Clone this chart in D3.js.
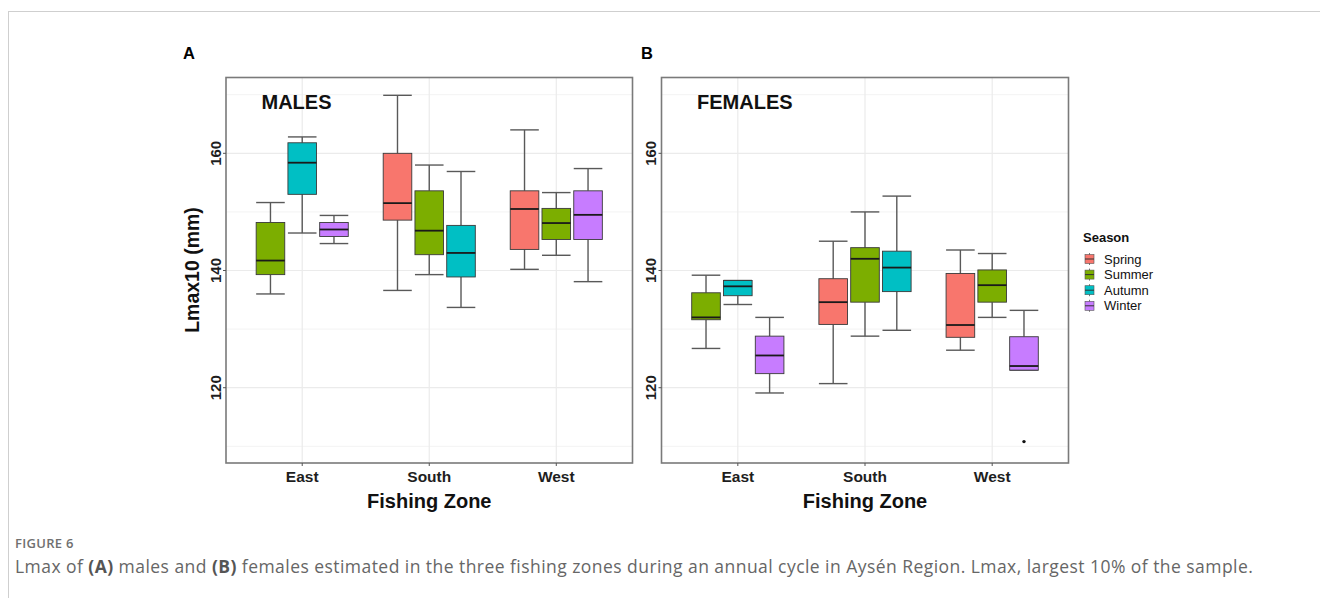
<!DOCTYPE html>
<html>
<head>
<meta charset="utf-8">
<script src="https://cdn.jsdelivr.net/npm/d3@7"></script>
<style>
  html, body { margin: 0; padding: 0; background: #fff; }
  svg { display: block; }
</style>
</head>
<body>
<svg id="chart" width="1320" height="598"></svg>
<script>
// ---------- DATA ----------
const zones = ["East", "South", "West"];
const seasons = ["Spring", "Summer", "Autumn", "Winter"];
const seasonColors = ["#F8766D", "#7CAE00", "#00BFC4", "#C77CFF"];
const yTicks = [120, 140, 160];
const yMinor = [110, 130, 150, 170];

// rows: [zone, season, lowerWhisker, q1, median, q3, upperWhisker]
const malesStats = [
  ["East",  "Summer", 136.0, 139.3, 141.7, 148.2, 151.6],
  ["East",  "Autumn", 146.4, 153.0, 158.4, 161.8, 162.8],
  ["East",  "Winter", 144.6, 145.8, 147.0, 148.2, 149.4],
  ["South", "Spring", 136.6, 148.6, 151.5, 160.0, 169.9],
  ["South", "Summer", 139.3, 142.7, 146.8, 153.6, 158.0],
  ["South", "Autumn", 133.7, 138.9, 143.0, 147.7, 156.9],
  ["West",  "Spring", 140.2, 143.6, 150.5, 153.6, 164.0],
  ["West",  "Summer", 142.6, 145.3, 148.1, 150.6, 153.3],
  ["West",  "Winter", 138.1, 145.3, 149.5, 153.6, 157.4]
];
const femalesStats = [
  ["East",  "Summer", 126.7, 131.6, 132.0, 136.2, 139.2],
  ["East",  "Autumn", 134.2, 135.7, 137.3, 138.3, 138.3],
  ["East",  "Winter", 119.1, 122.4, 125.5, 128.8, 132.0],
  ["South", "Spring", 120.7, 130.8, 134.6, 138.6, 145.0],
  ["South", "Summer", 128.8, 134.6, 142.0, 143.9, 150.0],
  ["South", "Autumn", 129.8, 136.4, 140.5, 143.3, 152.7],
  ["West",  "Spring", 126.4, 128.6, 130.7, 139.5, 143.5],
  ["West",  "Summer", 132.0, 134.6, 137.5, 140.1, 142.9],
  ["West",  "Winter", 123.0, 123.0, 123.7, 128.7, 133.2]
];
// outliers: [zone, season, value]
const femalesOutliers = [["West", "Winter", 110.8]];
const malesOutliers = [];

// ---------- LAYOUT ----------
const svg = d3.select("#chart");
const FONT = "'Liberation Sans', Arial, Helvetica, sans-serif";
const yDomain = [107.15, 172.94];
const panelTop = 77.5, panelBottom = 463;

const color = d3.scaleOrdinal().domain(seasons).range(seasonColors);

// outer frame
svg.append("line").attr("x1", 8).attr("x2", 1320).attr("y1", 11.5).attr("y2", 11.5)
  .attr("stroke", "#cfcfcf").attr("stroke-width", 1);
svg.append("line").attr("x1", 8.5).attr("x2", 8.5).attr("y1", 11).attr("y2", 598)
  .attr("stroke", "#cfcfcf").attr("stroke-width", 1);

function drawPanel(opts) {
  const { left, right, stats, outliers, letter, title, yTitle } = opts;
  const g = svg.append("g");
  const x = d3.scaleLinear().domain([0.4, 3.6]).range([left, right]);
  const y = d3.scaleLinear().domain(yDomain).range([panelBottom, panelTop]);

  // grid
  g.selectAll(".minor").data(yMinor).join("line")
    .attr("x1", left).attr("x2", right)
    .attr("y1", d => y(d)).attr("y2", d => y(d))
    .attr("stroke", "#f3f3f3").attr("stroke-width", 1);
  g.selectAll(".major").data(yTicks).join("line")
    .attr("x1", left).attr("x2", right)
    .attr("y1", d => y(d)).attr("y2", d => y(d))
    .attr("stroke", "#ebebeb").attr("stroke-width", 1.2);
  g.selectAll(".vgrid").data(zones).join("line")
    .attr("x1", (d, i) => x(i + 1)).attr("x2", (d, i) => x(i + 1))
    .attr("y1", panelTop).attr("y2", panelBottom)
    .attr("stroke", "#ebebeb").attr("stroke-width", 1.2);

  // boxes
  const dodge = 0.75;
  stats.forEach(row => {
    const [zone, season, lo, q1, med, q3, hi] = row;
    const inZone = stats.filter(r => r[0] === zone).map(r => r[1]);
    const n = inZone.length;
    const k = inZone.indexOf(season);
    const zi = zones.indexOf(zone) + 1;
    const slot = dodge / n;
    const cx = zi - dodge / 2 + slot * (k + 0.5);
    const hw = slot * 0.9 / 2;
    const x0 = x(cx - hw), x1 = x(cx + hw), xc = x(cx);
    const wcol = "#595959";
    // whiskers
    g.append("line").attr("x1", xc).attr("x2", xc).attr("y1", y(hi)).attr("y2", y(q3))
      .attr("stroke", wcol).attr("stroke-width", 1.4);
    g.append("line").attr("x1", xc).attr("x2", xc).attr("y1", y(q1)).attr("y2", y(lo))
      .attr("stroke", wcol).attr("stroke-width", 1.4);
    g.append("line").attr("x1", x0).attr("x2", x1).attr("y1", y(hi)).attr("y2", y(hi))
      .attr("stroke", wcol).attr("stroke-width", 1.4);
    g.append("line").attr("x1", x0).attr("x2", x1).attr("y1", y(lo)).attr("y2", y(lo))
      .attr("stroke", wcol).attr("stroke-width", 1.4);
    // box
    g.append("rect").attr("x", x0).attr("y", y(q3))
      .attr("width", x1 - x0).attr("height", Math.max(0.5, y(q1) - y(q3)))
      .attr("fill", color(season)).attr("stroke", "#3a3a3a").attr("stroke-width", 0.9);
    g.append("line").attr("x1", x0).attr("x2", x1).attr("y1", y(med)).attr("y2", y(med))
      .attr("stroke", "#1a1a1a").attr("stroke-width", 1.8);
  });

  // outliers
  outliers.forEach(o => {
    const [zone, season, v] = o;
    const inZone = stats.filter(r => r[0] === zone).map(r => r[1]);
    const n = inZone.length, k = inZone.indexOf(season);
    const zi = zones.indexOf(zone) + 1;
    const cx = zi - dodge / 2 + (dodge / n) * (k + 0.5);
    g.append("circle").attr("cx", x(cx)).attr("cy", y(v)).attr("r", 1.7).attr("fill", "#111");
  });

  // panel border
  g.append("rect").attr("x", left).attr("y", panelTop)
    .attr("width", right - left).attr("height", panelBottom - panelTop)
    .attr("fill", "none").attr("stroke", "#7a7a7a").attr("stroke-width", 1.6);

  // y ticks
  g.selectAll(".ytick").data(yTicks).join("line")
    .attr("x1", left - 3).attr("x2", left)
    .attr("y1", d => y(d)).attr("y2", d => y(d))
    .attr("stroke", "#555").attr("stroke-width", 1);
  g.selectAll(".ylab").data(yTicks).join("text")
    .attr("transform", d => `translate(${left - 5.5},${y(d)}) rotate(-90)`)
    .attr("text-anchor", "middle")
    .attr("font-family", FONT).attr("font-weight", "bold").attr("font-size", 15)
    .attr("fill", "#1e1e1e")
    .text(d => d);

  // x ticks
  g.selectAll(".xtick").data(zones).join("line")
    .attr("x1", (d, i) => x(i + 1)).attr("x2", (d, i) => x(i + 1))
    .attr("y1", panelBottom).attr("y2", panelBottom + 3)
    .attr("stroke", "#555").attr("stroke-width", 1);
  g.selectAll(".xlab").data(zones).join("text")
    .attr("x", (d, i) => x(i + 1)).attr("y", 481.5)
    .attr("text-anchor", "middle")
    .attr("font-family", FONT).attr("font-weight", "bold").attr("font-size", 15.5)
    .attr("fill", "#1e1e1e")
    .text(d => d);

  // x title
  g.append("text").attr("x", (left + right) / 2).attr("y", 508)
    .attr("text-anchor", "middle")
    .attr("font-family", FONT).attr("font-weight", "bold").attr("font-size", 20)
    .attr("fill", "#111").text("Fishing Zone");

  // y title
  if (yTitle) {
    g.append("text").attr("transform", `translate(${left - 27},270) rotate(-90)`)
      .attr("text-anchor", "middle")
      .attr("font-family", FONT).attr("font-weight", "bold").attr("font-size", 19.5)
      .attr("fill", "#111").text(yTitle);
  }

  // panel letter and title
  g.append("text").attr("x", opts.letterX).attr("y", 59)
    .attr("font-family", FONT).attr("font-weight", "bold").attr("font-size", 16.5)
    .attr("fill", "#000").text(letter);
  g.append("text").attr("x", left + 35.5).attr("y", 108.5)
    .attr("font-family", FONT).attr("font-weight", "bold").attr("font-size", 20)
    .attr("fill", "#111").text(title);
}

drawPanel({ left: 226, right: 632.5, stats: malesStats, outliers: malesOutliers,
  letter: "A", letterX: 183, title: "MALES", yTitle: "Lmax10 (mm)" });
drawPanel({ left: 661.5, right: 1068.5, stats: femalesStats, outliers: femalesOutliers,
  letter: "B", letterX: 641, title: "FEMALES", yTitle: null });

// ---------- LEGEND ----------
const leg = svg.append("g");
leg.append("text").attr("x", 1083).attr("y", 241.5)
  .attr("font-family", FONT).attr("font-weight", "bold").attr("font-size", 13)
  .attr("fill", "#111").text("Season");
seasons.forEach((s, i) => {
  const cy = 259 + i * 15.6;
  leg.append("line").attr("x1", 1089.5).attr("x2", 1089.5).attr("y1", cy - 6).attr("y2", cy + 6)
    .attr("stroke", "#777").attr("stroke-width", 1);
  leg.append("rect").attr("x", 1085).attr("y", cy - 4.5).attr("width", 9).attr("height", 9)
    .attr("fill", color(s)).attr("stroke", "#555").attr("stroke-width", 0.6);
  leg.append("line").attr("x1", 1085).attr("x2", 1094).attr("y1", cy).attr("y2", cy)
    .attr("stroke", "#333").attr("stroke-width", 1);
  leg.append("text").attr("x", 1104).attr("y", cy + 4.5)
    .attr("font-family", FONT).attr("font-size", 13).attr("fill", "#111").text(s);
});

// ---------- CAPTION ----------
const CAP = "'Open Sans', 'Noto Sans', sans-serif";
svg.append("text").attr("x", 15).attr("y", 547.5)
  .attr("font-family", CAP).attr("font-weight", 600).attr("font-size", 13)
  .attr("letter-spacing", 0.3)
  .attr("fill", "#707070").text("FIGURE 6");
const cap = svg.append("text").attr("x", 15).attr("y", 572.5)
  .attr("font-family", CAP).attr("font-size", 17.5).attr("letter-spacing", 0.45)
  .attr("fill", "#666");
const capParts = [
  ["Lmax of ", false], ["(A)", true], [" males and ", false], ["(B)", true],
  [" females estimated in the three fishing zones during an annual cycle in Aysén Region. Lmax, largest 10% of the sample.", false]
];
capParts.forEach(([t, b]) => {
  cap.append("tspan").attr("font-weight", b ? 700 : 400).attr("fill", b ? "#555" : "#666").text(t);
});
</script>
</body>
</html>
